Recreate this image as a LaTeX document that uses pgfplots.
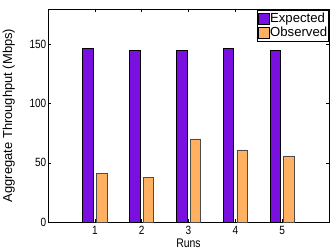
\documentclass[border=0pt]{standalone}
\usepackage{pgfplots}
\pgfplotsset{compat=1.18}
\usepackage{fontspec}
\setmainfont[FakeStretch=0.84]{Liberation Sans}
\newfontfamily\ylfont{Liberation Sans}
\definecolor{expc}{HTML}{7A10E0}
\definecolor{obsc}{HTML}{FFB060}
\begin{document}
\begin{tikzpicture}
\begin{axis}[
  scale only axis,
  width=281bp, height=213bp,
  xmin=0, xmax=6, ymin=0, ymax=180,
  xtick={1,2,3,4,5},
  ytick={0,50,100,150},
  tick align=inside,
  tick pos=both,
  major tick length=3bp,
  axis line style={line width=0.9pt},
  tick style={black, line width=0.5pt},
  /pgf/number format/assume math mode=true,
  ticklabel style={font=\fontsize{12}{12}\selectfont},
  yticklabel style={inner sep=0pt, xshift=-1.5bp},
  xticklabel style={inner sep=0pt, yshift=-4bp},
  xlabel={Runs},
  ylabel={Aggregate Throughput (Mbps)},
  xlabel style={font=\fontsize{12.5}{13}\selectfont, at={(axis description cs:0.5,-0.1174)}, anchor=base, inner sep=0pt},
  ylabel style={font=\ylfont\fontsize{13}{14}\selectfont, at={(axis description cs:-0.1281,0.5)}, anchor=base, inner sep=0pt},
  legend style={at={(rel axis cs:1,1)}, anchor=north east, yshift=-1bp,
    font=\ylfont\fontsize{13.2}{15}\selectfont, draw=black, line width=0.7pt,
    inner sep=1pt, row sep=0pt, cells={anchor=west},
    nodes={inner sep=0.5bp, text height=10.5bp, text depth=3bp}},
  legend image code/.code={\draw[#1, draw=black, line width=0.5pt] (0bp,-5.5bp) rectangle (11bp,5.5bp);},
]
\addplot[ybar, bar width=0.224, bar shift=-0.145, fill=expc, draw=black, line width=0.6pt]
  coordinates {(1,146.4) (2,145.0) (3,145.2) (4,146.4) (5,145.0)};
\addplot[ybar, bar width=0.224, bar shift=0.145, fill=obsc, draw=black!70, line width=0.6pt]
  coordinates {(1,41.0) (2,37.9) (3,70.3) (4,61.0) (5,55.9)};
\legend{Expected, Observed}
\coordinate (SW) at (rel axis cs:0,0);
\coordinate (NE) at (rel axis cs:1,1);
\end{axis}
\pgfresetboundingbox
\path ([shift={(-48bp,-29bp)}]SW) rectangle ([shift={(1bp,9bp)}]NE);
\end{tikzpicture}
\end{document}
